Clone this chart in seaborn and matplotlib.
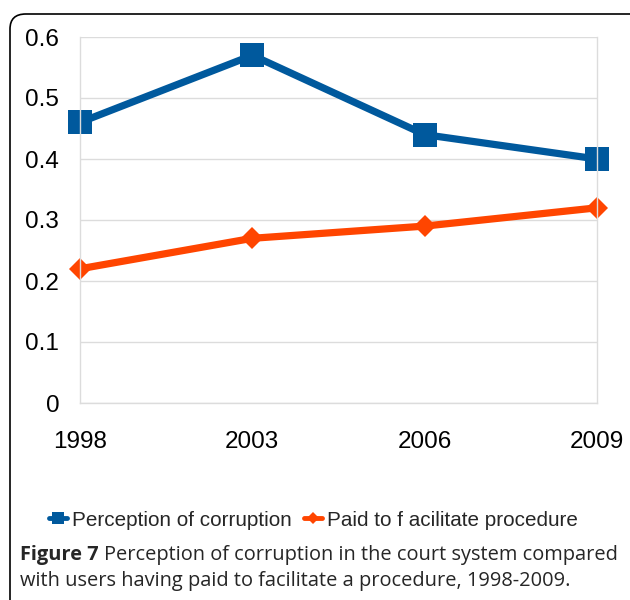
import pandas as pd
import matplotlib.pyplot as plt
import seaborn as sns
from matplotlib.patches import FancyBboxPatch
from matplotlib.lines import Line2D

years = ["1998", "2003", "2006", "2009"]
perception = [0.46, 0.57, 0.44, 0.40]
paid = [0.22, 0.27, 0.29, 0.32]
series_names = ["Perception of corruption", "Paid to f acilitate procedure"]
colors = ["#00599d", "#ff4500"]

df = pd.DataFrame({
    "year": years * 2,
    "value": perception + paid,
    "series": [series_names[0]] * 4 + [series_names[1]] * 4,
})

sns.set_style("white")
plt.rcParams["font.family"] = ["Liberation Sans", "DejaVu Sans"]

fig = plt.figure(figsize=(6.3, 6.0), dpi=100)
W, H = 630, 600

# rounded frame around the figure panel
frame = FancyBboxPatch((10 / W, -0.05), 1.2, 1 - 14 / H + 0.05,
                       boxstyle="round,pad=0,rounding_size=0.025",
                       transform=fig.transFigure, fill=False,
                       edgecolor="black", linewidth=1.2)
fig.patches.append(frame)

ax = fig.add_axes([80 / W, 1 - 403 / H, (597 - 80) / W, (403 - 37) / H])
sns.lineplot(data=df, x="year", y="value", hue="series", style="series",
             markers={series_names[0]: "s", series_names[1]: "D"},
             dashes=False, palette=colors, linewidth=5.2, markersize=15,
             markeredgewidth=0, sort=False, legend=False, ax=ax)
for ln in ax.lines:
    ln.set_clip_on(False)
    ln.set_markersize(17 if ln.get_marker() == "s" else 11)

ax.set_xlim(0, 3)
ax.set_ylim(0, 0.6)
ax.set_yticks([0, 0.1, 0.2, 0.3, 0.4, 0.5, 0.6])
ax.set_yticklabels(["0", "0.1", "0.2", "0.3", "0.4", "0.5", "0.6"])
ax.yaxis.grid(True, color="#dcdcdc", linewidth=1)
ax.set_axisbelow(True)
ax.set_xlabel("")
ax.set_ylabel("")
for side in ["left", "right", "bottom"]:
    ax.spines[side].set_color("#dcdcdc")
    ax.spines[side].set_linewidth(1)
ax.spines["top"].set_visible(False)
ax.tick_params(axis="both", colors="#dcdcdc", length=9, width=1,
               labelcolor="black", labelsize=17.5)
ax.tick_params(axis="y", pad=6)
ax.tick_params(axis="x", pad=11)

handles = [Line2D([0], [0], color=c, marker=m, linewidth=3.5, markersize=m_s,
                  markeredgewidth=0)
           for c, m, m_s in zip(colors, ["s", "D"], [8, 6])]
fig.legend(handles, series_names, loc="center", bbox_to_anchor=(0.497, 1 - 520 / H),
           ncol=2, frameon=False, fontsize=14.9, handlelength=0.9,
           handletextpad=0.2, columnspacing=0.6)

# caption with bold label
cap_font = ["Open Sans", "DejaVu Sans"]
cap_size = 14.4
t1 = fig.text(20 / W, 1 - 555 / H, "Figure 7", fontsize=cap_size, fontweight="bold",
              family=cap_font, va="center", ha="left")
fig.canvas.draw()
bb = t1.get_window_extent()
fig.text((bb.x1 + 5) / W, 1 - 555 / H,
         "Perception of corruption in the court system compared",
         fontsize=cap_size, family=cap_font, va="center", ha="left")
fig.text(20 / W, 1 - 581 / H,
         "with users having paid to facilitate a procedure, 1998-2009.",
         fontsize=cap_size, family=cap_font, va="center", ha="left")

fig.savefig("out.png", dpi=100)
